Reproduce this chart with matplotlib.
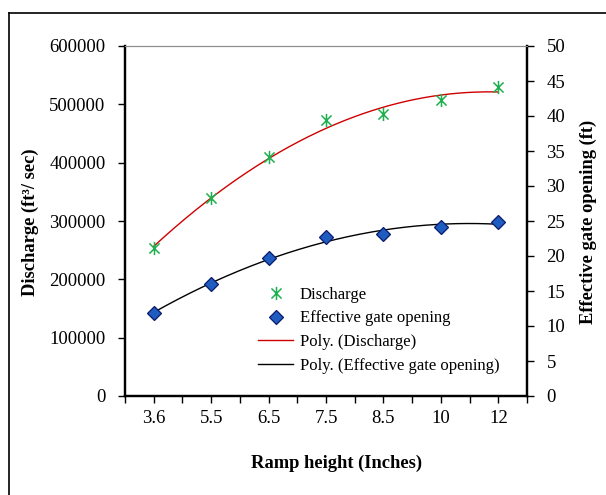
import numpy as np
import matplotlib
matplotlib.use("Agg")
import matplotlib.pyplot as plt
from matplotlib.path import Path
from matplotlib.lines import Line2D

plt.rcParams['font.family'] = ['Liberation Serif', 'DejaVu Serif']

categories = ["3.6", "5.5", "6.5", "7.5", "8.5", "10", "12"]
discharge = [254000, 339000, 409000, 473000, 483000, 507000, 529000]
gate_opening = [11.9, 15.95, 19.7, 22.7, 23.15, 24.1, 24.9]
left_ticks = [0, 100000, 200000, 300000, 400000, 500000, 600000]
right_ticks = [0, 5, 10, 15, 20, 25, 30, 35, 40, 45, 50]

W, H = 606, 495
fig = plt.figure(figsize=(W / 100, H / 100), dpi=100)
L, R, T, B = 125, 527, 46, 396
ax = fig.add_axes([L / W, 1 - B / H, (R - L) / W, (B - T) / H])
ax2 = ax.twinx()

x = np.arange(1, len(categories) + 1)

# Excel-like star marker: X with a vertical bar
star = Path([(-1, -1), (1, 1), (-1, 1), (1, -1), (0, -1.3), (0, 1.3)],
            [Path.MOVETO, Path.LINETO, Path.MOVETO, Path.LINETO, Path.MOVETO, Path.LINETO])

green = '#1db04e'
ax.plot(x, discharge, linestyle='none', marker=star, markersize=9.5,
        markeredgecolor=green, markerfacecolor='none', markeredgewidth=1.1, zorder=4)
xs = np.linspace(1, len(categories), 200)
pd_ = np.polyfit(x, discharge, 2)
ax.plot(xs, np.polyval(pd_, xs), color='#d00000', lw=1.0, zorder=3)

pg = np.polyfit(x, gate_opening, 2)
ax2.plot(xs, np.polyval(pg, xs), color='black', lw=1.0, zorder=3)
ax2.plot(x, gate_opening, linestyle='none', marker='D', markersize=7,
         markerfacecolor='#1f5cc0', markeredgecolor='#0a1a6e', markeredgewidth=0.9, zorder=4)

ax.set_xlim(0.5, len(categories) + 0.5)
ax.set_ylim(0, 600000)
ax2.set_ylim(0, 50)

tick_pos = np.arange(0.5, len(categories) + 0.51, 0.5)
ax.set_xticks(tick_pos)
labels = []
for t in tick_pos:
    if abs(t - round(t)) < 1e-9 and 1 <= round(t) <= len(categories):
        labels.append(categories[int(round(t)) - 1])
    else:
        labels.append('')
ax.set_xticklabels(labels)
ax.set_yticks(left_ticks)
ax.set_yticklabels([str(v) for v in left_ticks])
ax2.set_yticks(right_ticks)
ax2.set_yticklabels([str(v) for v in right_ticks])

for a in (ax, ax2):
    a.tick_params(direction='out', length=5, width=1.0, labelsize=13.5, colors='black')
ax.tick_params(axis='y', pad=9)
ax2.tick_params(axis='y', pad=9)
ax.tick_params(axis='x', pad=5)

for a in (ax, ax2):
    a.spines['top'].set_color('#8c8c8c')
    a.spines['top'].set_linewidth(0.8)
    a.spines['left'].set_linewidth(1.6)
    a.spines['right'].set_linewidth(1.6)
    a.spines['bottom'].set_linewidth(1.6)

fig.text(30 / W, 1 - 222 / H, 'Discharge (ft³/ sec)', rotation=90, ha='center', va='center',
         fontsize=13.3, fontweight='bold')
fig.text(588 / W, 1 - 222 / H, 'Effective gate opening (ft)', rotation=90, ha='center', va='center',
         fontsize=13.3, fontweight='bold')
fig.text(337 / W, 1 - 463 / H, 'Ramp height (Inches)', ha='center', va='center',
         fontsize=13.3, fontweight='bold')

handles = [
    Line2D([], [], linestyle='none', marker=star, markersize=9.5, markeredgecolor=green,
           markerfacecolor='none', markeredgewidth=1.1),
    Line2D([], [], linestyle='none', marker='D', markersize=7, markerfacecolor='#1f5cc0',
           markeredgecolor='#0a1a6e', markeredgewidth=0.9),
    Line2D([], [], color='#d00000', lw=1.0),
    Line2D([], [], color='black', lw=1.0),
]
names = ['Discharge', 'Effective gate opening', 'Poly. (Discharge)', 'Poly. (Effective gate opening)']
ax2.legend(handles, names, loc='upper left', bbox_to_anchor=(258 / W, 1 - 287 / H),
           bbox_transform=fig.transFigure, frameon=False, fontsize=12, borderpad=0,
           borderaxespad=0, handlelength=2.1, handletextpad=0.4, labelspacing=0.45)

# outer frame (left and top edges)
fig.add_artist(Line2D([9 / W, 9 / W], [0, 1 - 13 / H], transform=fig.transFigure, color='black', lw=1.2))
fig.add_artist(Line2D([9 / W, 1], [1 - 13 / H, 1 - 13 / H], transform=fig.transFigure, color='black', lw=1.2))

fig.savefig('out.png', dpi=100)
